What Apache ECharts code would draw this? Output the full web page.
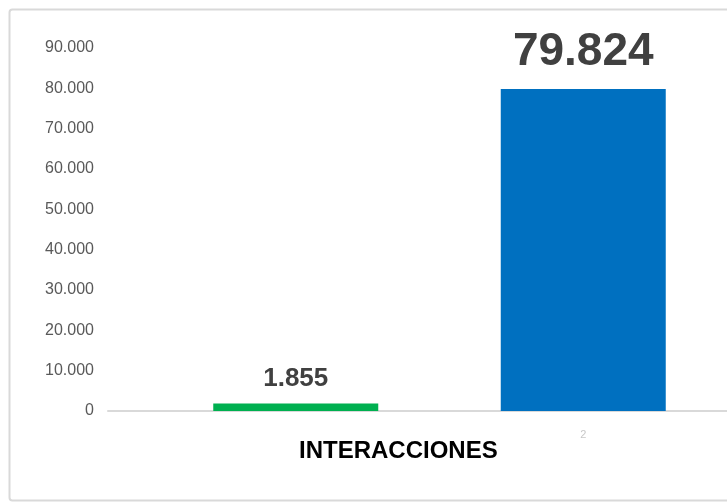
<!DOCTYPE html>
<html>
<head>
<meta charset="utf-8">
<script src="https://cdn.jsdelivr.net/npm/echarts@6/dist/echarts.min.js"></script>
<style>
  html, body { margin: 0; padding: 0; background: #fff; }
  #chart { width: 727px; height: 502px; }
</style>
</head>
<body>
<div id="chart"></div>
<script>
const categories = ["", "2"];
const values = [1855, 79824];
const barColors = ["#00b050", "#0070c0"];
const yTicks = [0, 10000, 20000, 30000, 40000, 50000, 60000, 70000, 80000, 90000];
const axisTitle = "INTERACCIONES";

// numbers like 79.824 (dot as thousands separator)
const fmt = (v) => String(v).replace(/\B(?=(\d{3})+(?!\d))/g, ".");

const myChart = echarts.init(document.getElementById("chart"));
const yMax = yTicks[yTicks.length - 1];
const yStep = yTicks[1] - yTicks[0];

const option = {
  animation: false,
  title: {
    text: axisTitle,
    left: 299,
    top: 439,
    padding: 0,
    textStyle: {
      fontFamily: "Liberation Sans, Arial, sans-serif",
      fontSize: 24,
      fontWeight: "bold",
      color: "#000",
    },
  },
  graphic: [
    {
      type: "rect",
      left: 7,
      top: 7,
      shape: { width: 740, height: 491, r: 3 },
      style: { fill: "none", stroke: "#d9d9d9", lineWidth: 2 },
      silent: true,
    },
  ],
  grid: [
    { left: 152, right: 0, top: 48, bottom: 91 },
    { left: 108, right: 0, top: 48, bottom: 91 },
  ],
  xAxis: [
    {
      type: "category",
      gridIndex: 0,
      data: categories,
      axisLine: { show: false },
      axisTick: { show: false },
      axisLabel: {
        color: "#c8c8c8",
        fontSize: 11,
        margin: 18,
      },
    },
    {
      type: "category",
      gridIndex: 1,
      data: [""],
      axisLine: { show: true, lineStyle: { color: "#d9d9d9", width: 2 } },
      axisTick: { show: false },
      axisLabel: { show: false },
    },
  ],
  yAxis: [
    {
      type: "value",
      gridIndex: 0,
      min: 0,
      max: yMax,
      interval: yStep,
      show: false,
      splitLine: { show: false },
    },
    {
      type: "value",
      gridIndex: 1,
      min: 0,
      max: yMax,
      interval: yStep,
      axisLine: { show: false },
      axisTick: { show: false },
      splitLine: { show: false },
      axisLabel: {
        color: "#595959",
        fontSize: 16,
        fontFamily: "Liberation Sans, Arial, sans-serif",
        margin: 14,
        formatter: (v) => fmt(v),
      },
    },
  ],
  series: [
    {
      type: "bar",
      xAxisIndex: 0,
      yAxisIndex: 0,
      barWidth: 165,
      data: values.map((v, i) => ({
        value: v,
        itemStyle: { color: barColors[i] },
        label: {
          fontSize: i === 0 ? 26 : 46,
          distance: i === 0 ? 12 : 14,
        },
      })),
      label: {
        show: true,
        position: "top",
        color: "#404040",
        fontWeight: "bold",
        fontFamily: "Liberation Sans, Arial, sans-serif",
        formatter: (p) => fmt(p.value),
      },
    },
  ],
};
option && myChart.setOption(option);
</script>
</body>
</html>
